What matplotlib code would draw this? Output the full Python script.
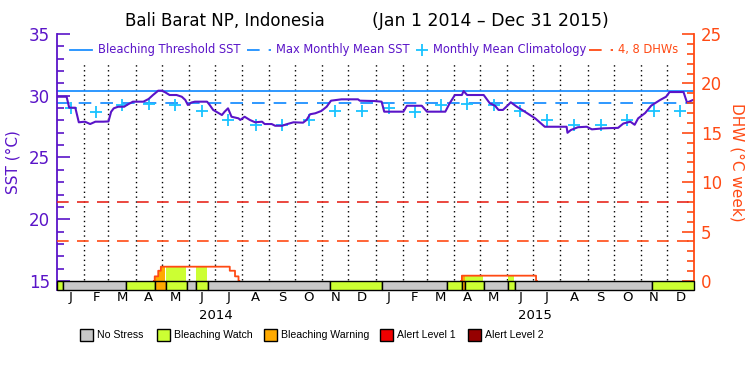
import numpy as np
import matplotlib.pyplot as plt
from matplotlib.lines import Line2D
from matplotlib.patches import Rectangle

# SST readings (day counted from Jan 1 2014, value in deg C)
sst_day = [0, 11, 14, 21, 25, 32, 38, 44, 53, 59, 62, 65, 70, 77, 80, 87, 99, 105,
           110, 116, 120, 124, 129, 137, 143, 147, 150, 154, 158, 172, 175, 179,
           181, 189, 192, 196, 200, 208, 210, 215, 221, 227, 235, 238, 246, 250,
           258, 263, 271, 282, 286, 290, 296, 303, 309, 314, 326, 345, 347, 364,
           372, 375, 397, 401, 418, 424, 445, 450, 456, 464, 466, 470, 489, 496,
           502, 506, 511, 517, 520, 527, 533, 542, 548, 559, 584, 585, 589, 597,
           607, 613, 626, 643, 649, 657, 662, 666, 674, 681, 691, 698, 702, 718,
           722, 729]
sst_val = [29.92, 29.92, 29.03, 29.03, 27.85, 27.90, 27.71, 27.90, 27.90, 27.92,
           28.70, 28.98, 29.11, 29.11, 29.25, 29.52, 29.52, 29.74, 30.06, 30.41,
           30.41, 30.28, 30.06, 30.06, 29.92, 29.66, 29.25, 29.45, 29.52, 29.52,
           29.25, 28.85, 28.77, 28.44, 28.70, 28.98, 28.30, 28.17, 28.04, 28.30,
           28.04, 27.85, 27.90, 27.71, 27.71, 27.57, 27.57, 27.69, 27.85, 27.82,
           28.04, 28.50, 28.58, 28.77, 29.11, 29.60, 29.71, 29.71, 29.60, 29.57,
           29.52, 28.71, 28.71, 29.19, 29.19, 28.71, 28.71, 29.39, 30.06, 30.06,
           30.38, 30.06, 30.06, 29.39, 29.19, 28.85, 28.85, 29.25, 29.47, 29.11,
           28.85, 28.44, 28.17, 27.49, 27.49, 27.00, 27.23, 27.45, 27.49, 27.28,
           27.36, 27.40, 27.75, 27.90, 27.65, 28.17, 28.60, 29.20, 29.65, 29.92,
           30.30, 30.30, 29.45, 29.66]

clim = [29.0, 28.7, 29.25, 29.3, 29.25, 28.8, 28.0, 27.6, 27.6, 28.0, 28.8, 28.8]
mmm = 29.4
threshold = 30.4

# degree heating weeks, step changes
dhw_day = [0, 112, 116, 119, 198, 204, 208, 464, 549]
dhw_val = [0, 0.47, 1.04, 1.45, 1.04, 0.47, 0, 0.54, 0]

# stress level segments (start day, level)
stress_start = [0, 7, 79, 112, 125, 149, 159, 173, 313, 373, 447, 464, 468, 489, 517, 525, 682]
stress_level = [1, 0, 1, 2, 1, 0, 1, 0, 1, 0, 1, 2, 1, 0, 1, 0, 1]
stress_names = ['No Stress', 'Bleaching Watch', 'Bleaching Warning', 'Alert Level 1', 'Alert Level 2']
stress_colors = ['#C8C8C8', '#CCFF33', '#FFAA00', '#F00000', '#960000']

month_letters = list('JFMAMJJASOND')
month_len = [31, 28, 31, 30, 31, 30, 31, 31, 30, 31, 30, 31]
years = ['2014', '2015']

purple = '#5A14C8'
orange = '#FF4A14'
blue = '#1E90FF'
cyan = '#19C3FF'

n_days = 730
month_start = np.cumsum([0] + month_len * 2)[:-1]
month_mid = month_start + np.array(month_len * 2) / 2


def fx(p):
    return p / 750


def fy(p):
    return 1 - p / 375


fig = plt.figure(figsize=(7.5, 3.75), dpi=100)
ax = fig.add_axes([fx(57), fy(290), fx(694) - fx(57), fy(34) - fy(290)])
ax2 = ax.twinx()
ax.set_xlim(0, n_days)
ax.set_ylim(14.27, 35)
ax2.set_ylim(-0.91, 25)

# month separators
ax.vlines(month_start[1:], 15.05, 32.65, colors='black', linestyles=(0, (1, 2.5)), lw=1)

ax.axhline(threshold, color=blue, lw=1.3)
ax.axhline(mmm, color=blue, lw=1.3, dashes=(7, 5))
ax.plot(month_mid, clim * 2, '+', color=cyan, ms=9, mew=1.3)
ax.plot(sst_day, sst_val, color=purple, lw=1.5)

# DHW with fill coloured by stress level
days = np.arange(n_days + 1)
dhw_daily = np.array(dhw_val)[np.searchsorted(dhw_day, days, side='right') - 1]
level_daily = np.array(stress_level)[np.searchsorted(stress_start, days, side='right') - 1]
for lev in range(1, 5):
    ax2.fill_between(days, 0, dhw_daily, where=(level_daily == lev), step='post',
                     color=stress_colors[lev], lw=0)
# hide the line where it sits on zero
nz = dhw_daily > 0
near = nz | np.r_[nz[1:], False] | np.r_[False, nz[:-1]]
ax2.step(days, np.ma.masked_where(~near, dhw_daily), where='post', color=orange, lw=1.3)
ax2.axhline(4, color=orange, lw=1.2, dashes=(7, 5))
ax2.axhline(8, color='#E8281E', lw=1.2, dashes=(7, 5))

# stress bar
ends = stress_start[1:] + [n_days]
for s, e, lev in zip(stress_start, ends, stress_level):
    ax2.bar(s, 0.9, width=e - s, bottom=-0.9, align='edge', color=stress_colors[lev],
            edgecolor='black', lw=1, clip_on=False, zorder=4)

# axes styling
for a in (ax, ax2):
    a.spines['top'].set_visible(False)
    a.spines['bottom'].set_visible(False)
ax.spines['right'].set_visible(False)
ax2.spines['left'].set_visible(False)
ax.spines['left'].set_color(purple)
ax.spines['left'].set_linewidth(1.3)
ax2.spines['right'].set_color(orange)
ax2.spines['right'].set_linewidth(1.3)
ax.set_xticks([])
ax.set_yticks([15, 20, 25, 30, 35])
ax.set_yticks(range(15, 36), minor=True)
ax2.set_yticks([0, 5, 10, 15, 20, 25])
ax2.set_yticks(range(0, 26), minor=True)
ax.tick_params(axis='y', which='major', direction='in', length=9, width=1.2,
               colors=purple, labelsize=12, pad=5)
ax.tick_params(axis='y', which='minor', direction='in', length=5, width=1.2, colors=purple)
ax2.tick_params(axis='y', which='major', direction='in', length=9, width=1.2,
                colors=orange, labelsize=12, pad=5)
ax2.tick_params(axis='y', which='minor', direction='in', length=5, width=1.2, colors=orange)
ax.set_ylabel('SST (°C)', color=purple, fontsize=11, labelpad=6)
ax2.set_ylabel('DHW (°C week)', color=orange, fontsize=11, rotation=270, labelpad=16)

# month and year labels
tr = ax.get_xaxis_transform()
for m, lab in zip(month_mid, month_letters * 2):
    ax.text(m, -0.031, lab, transform=tr, ha='center', va='center', fontsize=9.5)
for i, yr in enumerate(years):
    ax.text(365 * i + 182.5, -0.098, yr, transform=tr, ha='center', va='center', fontsize=9.5)

# title
fig.text(fx(125), fy(21), 'Bali Barat NP, Indonesia', ha='left', va='center', fontsize=12)
fig.text(fx(372), fy(21), '(Jan 1 2014 \u2013 Dec 31 2015)', ha='left', va='center', fontsize=12.5)

# legend inside plot
ly = fy(50)
fig.add_artist(Line2D([fx(70), fx(92)], [ly, ly], color=blue, lw=1.3))
fig.text(fx(98), ly, 'Bleaching Threshold SST', color=purple, fontsize=8.3, va='center')
fig.add_artist(Line2D([fx(247), fx(271)], [ly, ly], color=blue, lw=1.3, dashes=(7, 5)))
fig.text(fx(276), ly, 'Max Monthly Mean SST', color=purple, fontsize=8.3, va='center')
fig.add_artist(Line2D([fx(422)], [ly], color=cyan, marker='+', ms=9, mew=1.3))
fig.text(fx(433), ly, 'Monthly Mean Climatology', color=purple, fontsize=8.3, va='center')
fig.add_artist(Line2D([fx(589), fx(613)], [ly, ly], color=orange, lw=1.3, dashes=(7, 5)))
fig.text(fx(618), ly, '4, 8 DHWs', color=orange, fontsize=8.3, va='center')

# stress legend
box_x = [80, 157, 264, 380, 468]
for bx, name, col in zip(box_x, stress_names, stress_colors):
    fig.add_artist(Rectangle((fx(bx), fy(341)), fx(13), 12 / 375, facecolor=col,
                             edgecolor='black', lw=1))
    fig.text(fx(bx + 17), fy(335), name, fontsize=7.6, va='center', family='Liberation Sans')

fig.savefig('out.png', dpi=100)
